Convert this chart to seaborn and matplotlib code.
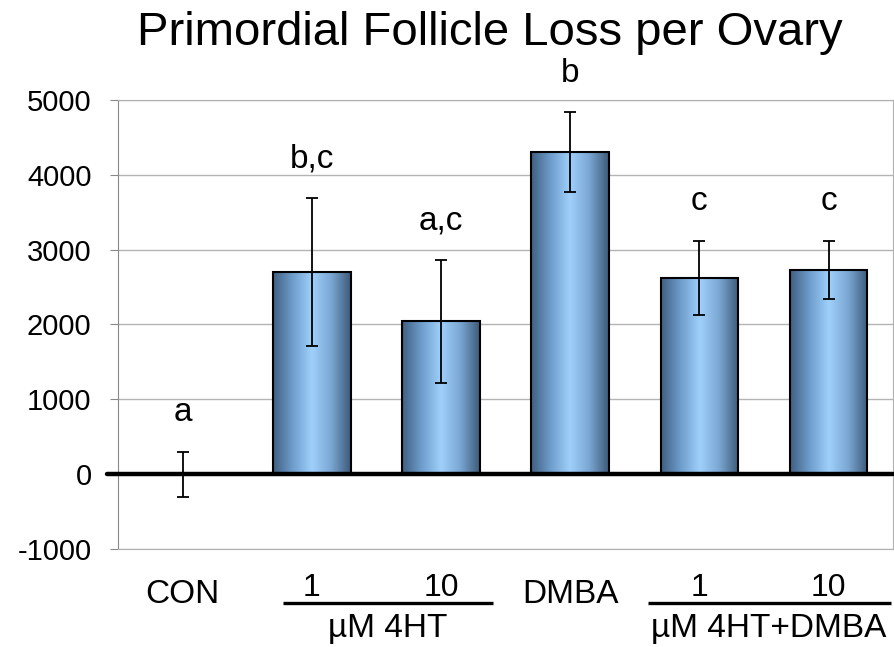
import numpy as np
import pandas as pd
import seaborn as sns
import matplotlib.pyplot as plt
from matplotlib.colors import LinearSegmentedColormap

# data
categories = ["CON", "1 uM 4HT", "10 uM 4HT", "DMBA", "1 uM 4HT+DMBA", "10 uM 4HT+DMBA"]
tick_labels = ["CON", "1", "10", "DMBA", "1", "10"]
loss = [0, 2700, 2040, 4300, 2620, 2730]
sem = [300, 990, 820, 535, 495, 385]
letters = ["a", "b,c", "a,c", "b", "c", "c"]
groups = ["\u00b5M 4HT", "\u00b5M 4HT+DMBA"]

sns.set_style("white")
plt.rcParams['font.family'] = ['Liberation Sans', 'DejaVu Sans']
plt.rcParams['text.color'] = 'black'
plt.rcParams['axes.unicode_minus'] = False

df = pd.DataFrame({"group": categories, "loss": loss})

fig = plt.figure(figsize=(8.94, 6.47), dpi=100)
ax = fig.add_axes([0.132, 0.1515, 0.867, 0.694])

sns.barplot(data=df, x="group", y="loss", order=categories, color="#8fbde8",
            width=0.6, errorbar=None, edgecolor="black", linewidth=1.5, ax=ax)

ax.set_ylim(-1000, 5000)
ax.set_xlim(-0.5, 5.5)

# cylinder style shading on each bar
cmap = LinearSegmentedColormap.from_list(
    "cyl", ["#3f5f80", "#6e9ccb", "#9fd0fb", "#7aa6d2", "#3d5a78"])
grad = np.linspace(0, 1, 256).reshape(1, -1)
for p in ax.patches:
    x0, y0 = p.get_x(), p.get_y()
    w, h = p.get_width(), p.get_height()
    if h == 0:
        continue
    ax.imshow(grad, cmap=cmap, aspect="auto", extent=[x0, x0 + w, y0, y0 + h],
              zorder=2.5, interpolation="bicubic")
    p.set_facecolor("none")
    p.set_zorder(3)
ax.set_xlim(-0.5, 5.5)
ax.set_ylim(-1000, 5000)

xs = np.arange(len(categories))
ax.errorbar(xs, loss, yerr=sem, fmt="none", ecolor="black", elinewidth=1.3,
            capsize=4, capthick=1.3, zorder=5)

for x, m, e, t in zip(xs, loss, sem, letters):
    ax.annotate(t, (x, m + e), xytext=(0, 22), textcoords="offset points",
                ha="center", va="baseline", fontsize=24)

# thick zero line, poking out a little past the axis like a tick
ax.axhline(0, xmin=-0.014, xmax=1, color="black", lw=3.2, clip_on=False, zorder=6)

ax.set_yticks(range(-1000, 5001, 1000))
ax.yaxis.grid(True, color="#b4b4b4", lw=1)
ax.set_axisbelow(True)
for s in ["top", "right", "bottom"]:
    ax.spines[s].set_color("#b0b0b0")
ax.spines["left"].set_color("#888888")
ax.tick_params(axis="y", left=True, length=6, color="#888888", labelcolor="black",
               pad=13, labelsize=21)
ax.set_xticks(xs)
ax.set_xticklabels([""] * len(xs))
ax.tick_params(axis="x", length=0)
ax.set_xlabel("")
ax.set_ylabel("")

# category labels: names sit lower, dose numbers sit just above the underline
trans = ax.get_xaxis_transform()
for x, t in zip(xs, tick_labels):
    if t.isdigit():
        ax.text(x, -0.105, t, transform=trans, ha="center", va="baseline", fontsize=23)
    else:
        ax.text(x, -0.1205, t, transform=trans, ha="center", va="baseline", fontsize=24)

# group underlines and labels
for (a, b), name in zip([(0.78, 2.40), (3.60, 5.48)], groups):
    ax.plot([a, b], [-0.121, -0.121], color="black", lw=2.4, transform=trans,
            clip_on=False, solid_capstyle="butt")
    ax.text((a + b) / 2, -0.196, name, transform=trans, ha="center", va="baseline",
            fontsize=24)

fig.text(0.548, 0.9304, "Primordial Follicle Loss per Ovary", ha="center",
         va="baseline", fontsize=34)

fig.savefig("out.png", dpi=100)
